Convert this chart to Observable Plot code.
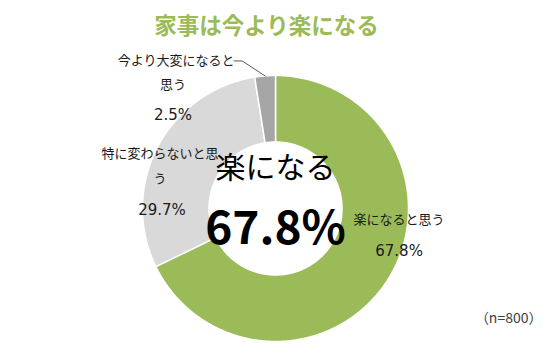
<!DOCTYPE html>
<html><head><meta charset="utf-8">
<script src="https://cdn.jsdelivr.net/npm/d3@7"></script>
<script src="https://cdn.jsdelivr.net/npm/@observablehq/plot@0.6"></script>
<style>
body{margin:0;background:#fff;}
#chart{width:550px;height:361px;}
</style>
</head><body><div id="chart"></div>
<script>
const title = "家事は今より楽になる";
const categories = ["楽になると思う", "特に変わらないと思う", "今より大変になると思う"];
const values = [67.8, 29.7, 2.5];
const colors = ["#9BBB59", "#D9D9D9", "#A6A6A6"];
const labelLines = [["楽になると思う"], ["特に変わらないと思", "う"], ["今より大変になると", "思う"]];
const centerLabel = "楽になる";
const note = "（n=800）";

const W = 550, H = 361, CX = 275, CY = 208, R = 133, INNER = 0.5;
const pie = d3.pie().sort(null).value(d => d)(values);

// arc polygons (0 = top, clockwise)
const poly = [];
pie.forEach((p, i) => {
  const n = Math.max(4, Math.ceil((p.endAngle - p.startAngle) / 0.01));
  const pts = [];
  for (let k = 0; k <= n; k++) {
    const a = p.startAngle + (p.endAngle - p.startAngle) * k / n;
    pts.push([Math.sin(a), Math.cos(a)]);
  }
  for (let k = n; k >= 0; k--) {
    const a = p.startAngle + (p.endAngle - p.startAngle) * k / n;
    pts.push([INNER * Math.sin(a), INNER * Math.cos(a)]);
  }
  pts.push(pts[0]);
  pts.forEach(([x, y]) => poly.push({cat: categories[i], x, y}));
});

const mid = i => (pie[i].startAngle + pie[i].endAngle) / 2;
const at = (i, r) => ({x: r * Math.sin(mid(i)), y: r * Math.cos(mid(i))});
const px = 1 / R;

const gA = at(0, 0.75), lA = at(1, 0.75), dA = at(2, 1.0);
const fmt = v => v.toFixed(1) + "%";
const JP = "'Noto Sans CJK JP', sans-serif";
const NUM = "'DejaVu Sans', sans-serif";
const labels = [
  {...gA, t: labelLines[0][0], dx: 39, dy: -42, s: 13, f: JP},
  {...gA, t: fmt(values[0]), dx: 39, dy: -10, s: 15, f: NUM},
  {...lA, t: labelLines[1][0], dx: -27, dy: -9, s: 13, f: JP},
  {...lA, t: labelLines[1][1], dx: -27, dy: 16, s: 13, f: JP},
  {...lA, t: fmt(values[1]), dx: -25, dy: 48, s: 15, f: NUM},
  {...dA, t: labelLines[2][0], dx: -89, dy: -15, s: 13, f: JP},
  {...dA, t: labelLines[2][1], dx: -92, dy: 9, s: 13, f: JP},
  {...dA, t: fmt(values[2]), dx: -92, dy: 39, s: 15, f: NUM},
];
const leader = [
  {x: dA.x, y: dA.y},
  {x: dA.x - 23 * px, y: dA.y + 15 * px},
  {x: dA.x - 31 * px, y: dA.y + 15 * px},
];

const plot = Plot.plot({
  width: W, height: H,
  marginTop: 0, marginBottom: 0, marginLeft: 0, marginRight: 0,
  x: {domain: [-1, 1], range: [CX - R, CX + R], axis: null},
  y: {domain: [-1, 1], range: [CY + R, CY - R], axis: null},
  color: {domain: categories, range: colors},
  style: {fontFamily: JP, background: "#fff"},
  marks: [
    Plot.line(poly, {x: "x", y: "y", z: "cat", fill: "cat", stroke: "white", strokeWidth: 1.5, curve: "linear"}),
    Plot.line(leader, {x: "x", y: "y", stroke: "#595959", strokeWidth: 1}),
    ...labels.map(l => Plot.text([l], {x: "x", y: "y", text: "t", dx: l.dx, dy: l.dy, fontSize: l.s, fontFamily: l.f, fill: "#1a1a1a"})),
    Plot.text([centerLabel], {x: 0, y: 0, text: d => d, dy: -40, fontSize: 30, fill: "#000"}),
    Plot.text([fmt(values[0])], {x: 0, y: 0, text: d => d, dy: 21, fontSize: 46, fontWeight: "bold", fill: "#000"}),
    Plot.text([title], {frameAnchor: "top", dx: -9, dy: 18, fontSize: 22.5, fontWeight: "bold", fill: "#9BBB59"}),
    Plot.text([note], {frameAnchor: "bottom-right", dx: -8, dy: -39, fontSize: 14, fill: "#404040", textAnchor: "end"}),
  ]
});
document.getElementById("chart").appendChild(plot);
</script>
</body></html>
